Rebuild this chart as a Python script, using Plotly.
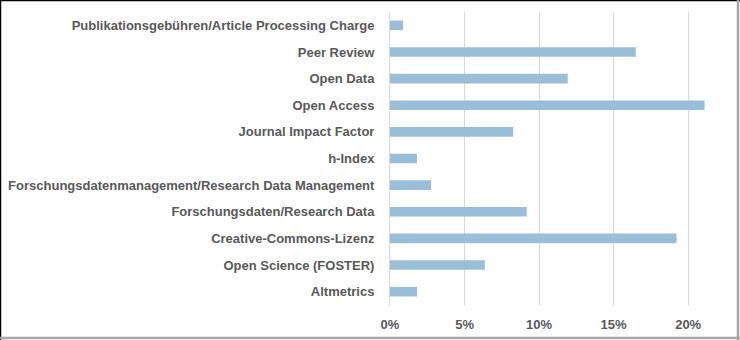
import plotly.graph_objects as go

categories = [
    "Publikationsgebühren/Article Processing Charge",
    "Peer Review",
    "Open Data",
    "Open Access",
    "Journal Impact Factor",
    "h-Index",
    "Forschungsdatenmanagement/Research Data Management",
    "Forschungsdaten/Research Data",
    "Creative-Commons-Lizenz",
    "Open Science (FOSTER)",
    "Altmetrics",
]
shares = [0.0087, 0.1648, 0.1192, 0.2110, 0.0826, 0.0181, 0.0275, 0.0917, 0.1922, 0.0636, 0.0181]
tick_vals = [0, 0.05, 0.10, 0.15, 0.20]

W, H = 740, 340
ML, MR, MT, MB = 390, 22, 12, 35
PW, PH = W - ML - MR, H - MT - MB

fig = go.Figure(go.Bar(
    x=shares, y=categories, orientation="h",
    marker=dict(color="#9BBED8", line=dict(width=0)),
))

tfont = dict(family="Liberation Sans, Arial, sans-serif", size=13, color="#595959", weight="bold")

fig.update_layout(
    width=W, height=H,
    margin=dict(l=ML, r=MR, t=MT, b=MB, pad=0, autoexpand=False),
    paper_bgcolor="white", plot_bgcolor="white",
    bargap=0.64, showlegend=False,
    font=dict(family="Liberation Sans, Arial, sans-serif", size=13, color="#595959"),
    xaxis=dict(range=[0, 0.22], tickvals=tick_vals, tickformat=".0%", automargin=False,
               showgrid=True, gridcolor="#D9D9D9", gridwidth=1,
               zeroline=False, showline=False, ticks="outside", ticklen=7,
               tickcolor="rgba(0,0,0,0)", tickfont=tfont),
    yaxis=dict(autorange="reversed", showgrid=False, zeroline=False, automargin=False,
               showline=True, linecolor="#D9D9D9", linewidth=1,
               ticks="outside", ticklen=12, tickcolor="rgba(0,0,0,0)",
               tickfont=tfont),
)

def px2x(px):
    return (px - ML) / PW

def py2y(py):
    return 1 - (py - MT) / PH

shapes = [
    dict(type="line", xref="paper", yref="paper", x0=px2x(0), x1=px2x(W), y0=py2y(0.5), y1=py2y(0.5),
         line=dict(color="black", width=1.5)),
    dict(type="line", xref="paper", yref="paper", x0=px2x(0.5), x1=px2x(0.5), y0=py2y(0), y1=py2y(H),
         line=dict(color="black", width=1.5)),
    dict(type="line", xref="paper", yref="paper", x0=px2x(W - 2), x1=px2x(W - 2), y0=py2y(0), y1=py2y(H),
         line=dict(color="#A6A6A6", width=2.5)),
    dict(type="line", xref="paper", yref="paper", x0=px2x(0), x1=px2x(W), y0=py2y(H - 2), y1=py2y(H - 2),
         line=dict(color="#A6A6A6", width=2.5)),
]
fig.update_layout(shapes=shapes)

fig.write_html("out.html")
